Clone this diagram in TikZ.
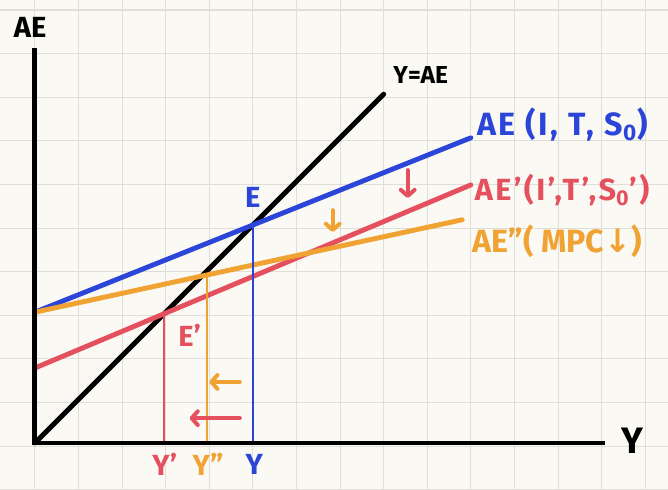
\documentclass[tikz,border=0pt]{standalone}
\usepackage{fontspec}
\setmainfont{Fira Sans}
\newfontfamily\symfont{DejaVu Sans}
\usetikzlibrary{arrows.meta}
\definecolor{bg}{HTML}{FBF9F4}
\definecolor{gridc}{HTML}{E0DED8}
\definecolor{aeblue}{HTML}{2A45D8}
\definecolor{aered}{HTML}{E4505E}
\definecolor{aeorange}{HTML}{F0A332}
\begin{document}
\begin{tikzpicture}[x=1cm,y=1cm,
  curve/.style={line width=3.2pt, line cap=round},
  guide/.style={line width=1.2pt},
  lbl/.style={font=\fontsize{19}{22}\selectfont\bfseries, inner sep=1pt},
  curvelbl/.style={font=\fontsize{21}{24}\selectfont\bfseries\addfontfeatures{LetterSpace=8}, inner sep=1pt, anchor=west},
  smalllbl/.style={font=\fontsize{16}{19}\selectfont\bfseries, inner sep=1pt},
  shiftarrow/.style={line width=2.6pt, line cap=round, -{Straight Barb[length=4pt,width=9pt,round]}}]
\fill[bg] (-0.8,-1.055) rectangle (14.52,10.16);
\useasboundingbox (-0.8,-1.055) rectangle (14.52,10.16);
\begin{scope}
  \clip (-0.8,-1.055) rectangle (14.52,10.16);
  \foreach \i in {-1,...,15} \draw[gridc, line width=0.7pt] (\i,-2) -- (\i,11);
  \foreach \j in {-1,...,10} \draw[gridc, line width=0.7pt] (-1,\j-0.07) -- (15,\j-0.07);
\end{scope}
% coordinates
\coordinate (O) at (0,0);
\coordinate (ytop) at (0,9.06);
\coordinate (xend) at (13.07,0);
\coordinate (d1) at (8,8);
\coordinate (b0) at (0,3);
\coordinate (b1) at (10,7);
\coordinate (r0) at (0,1.72);
\coordinate (r1) at (10,5.92);
\coordinate (o0) at (0,3);
\coordinate (o1) at (9.8,5.12);
\coordinate (E) at (5,5);
\coordinate (Ep) at (2.97,2.97);
\coordinate (Epp) at (3.95,3.855);
% 45 degree line
\draw[curve] (O) -- (d1);
% AE lines
\draw[curve, aeblue] (b0) -- (b1);
\draw[curve, aered] (r0) -- (r1);
\draw[curve, aeorange] (o0) -- (o1);
% guides
\draw[guide, aered] (Ep) -- (Ep |- O);
\draw[guide, aeorange] (Epp) -- (Epp |- O);
\draw[guide, aeblue] (E) -- (E |- O);
% axes
\draw[line width=3.2pt, line join=miter] (ytop) -- (O) -- (xend);
% axis labels
\node[lbl] (aelab) at (-0.11,9.52) {AE};
\node[lbl, font=\fontsize{24}{28}\selectfont\bfseries] (ylab) at (13.7,0.05) {Y};
\node[smalllbl] (dlab) at (8.85,8.44) {Y=AE};
% curve labels
\node[curvelbl, aeblue] (blab) at (10.1,7.3) {AE (I, T, S\textsubscript{0})};
\node[curvelbl, aered, font=\fontsize{20}{24}\selectfont\bfseries\addfontfeatures{LetterSpace=8}] (rlab) at (10.05,5.8) {AE'(I',T',S\textsubscript{0}')};
\node[curvelbl, aeorange, font=\fontsize{21}{24}\selectfont\bfseries] (olab) at (10.0,4.63) {AE''( MPC{\symfont\bfseries ↓})};
% point labels
\node[lbl, aeblue] (Elab) at (5,5.64) {E};
\node[lbl, aered] (Eplab) at (3.55,2.48) {E'};
\node[lbl, aered] (y1lab) at (2.98,-0.5) {Y'};
\node[lbl, aeorange] (y2lab) at (3.97,-0.5) {Y''};
\node[lbl, aeblue] (y0lab) at (5.03,-0.5) {Y};
% shift arrows
\coordinate (ra1) at (8.55,6.26); \coordinate (ra2) at (8.55,5.62);
\coordinate (oa1) at (6.83,5.34); \coordinate (oa2) at (6.83,4.84);
\coordinate (ol1) at (4.7,1.4); \coordinate (ol2) at (4.0,1.4);
\coordinate (rl1) at (4.7,0.57); \coordinate (rl2) at (3.55,0.57);
\draw[shiftarrow, aered] (ra1) -- (ra2);
\draw[shiftarrow, aeorange] (oa1) -- (oa2);
\draw[shiftarrow, aeorange] (ol1) -- (ol2);
\draw[shiftarrow, aered] (rl1) -- (rl2);
\end{tikzpicture}
\end{document}
